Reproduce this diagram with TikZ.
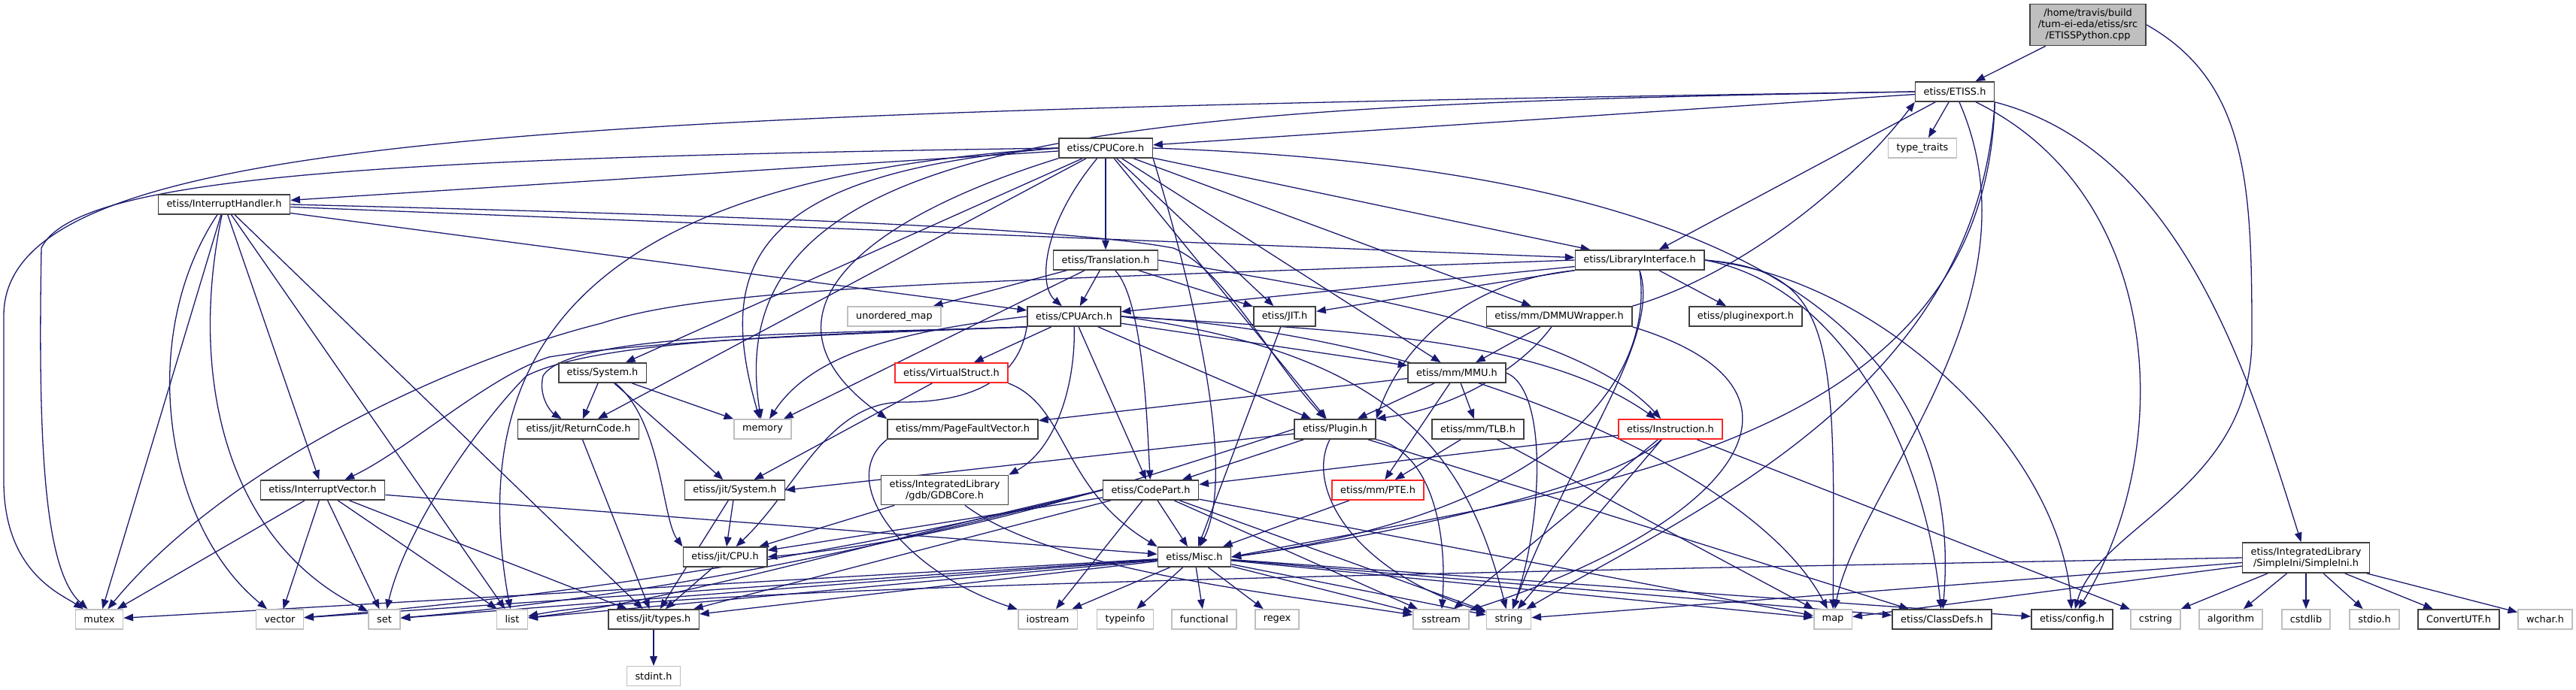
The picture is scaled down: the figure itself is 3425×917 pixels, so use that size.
\documentclass[tikz,border=0pt]{standalone}
\usepackage{fontspec}
\setmainfont{DejaVu Sans}
\usetikzlibrary{arrows.meta,positioning,backgrounds}
\definecolor{edgeblue}{HTML}{191970}
\definecolor{sysgray}{HTML}{BFBFBF}

\begin{document}
\begin{tikzpicture}[
  x=0.03cm, y=-0.03cm,
  font=\fontsize{11}{12.8}\selectfont,
  file/.style={draw, rectangle, align=center, fill=white, minimum height=0.78cm,
               inner xsep=0.33cm, inner ysep=0.06cm, line width=1.4pt},
  hdr/.style={file, draw=black!75},
  sys/.style={file, draw=sysgray},
  trunc/.style={file, draw=red!85},
  root/.style={file, draw=black!75, fill=sysgray, minimum height=1.65cm},
  dep/.style={draw=edgeblue, line width=1.1pt, -{Triangle[length=0.38cm,width=0.29cm]}},
]
\useasboundingbox (0,0) rectangle (3425,917);

% top ranks
\node[root] (src) at (2776,33) {/home/travis/build\\/tum-ei-eda/etiss/src\\/ETISSPython.cpp};
\node[hdr] (etiss) at (2599,122) {etiss/ETISS.h};
\node[hdr] (cpucore) at (1470,197) {etiss/CPUCore.h};
\node[sys] (typetraits) at (2556,197) {type\_traits};
\node[hdr] (ih) at (298,272) {etiss/InterruptHandler.h};
\node[hdr] (translation) at (1470,346) {etiss/Translation.h};
\node[hdr] (libif) at (2180,346) {etiss/LibraryInterface.h};
\node[sys] (umap) at (1189,421) {unordered\_map};
\node[hdr] (cpuarch) at (1428,421) {etiss/CPUArch.h};
\node[hdr] (jit) at (1708,421) {etiss/JIT.h};
\node[hdr] (dmmu) at (2073,421) {etiss/mm/DMMUWrapper.h};
\node[hdr] (plugexp) at (2321,421) {etiss/pluginexport.h};
\node[hdr] (system) at (801,496) {etiss/System.h};
\node[trunc] (vstruct) at (1265,496) {etiss/VirtualStruct.h};
\node[hdr] (mmu) at (1937,496) {etiss/mm/MMU.h};
\node[hdr] (retcode) at (769,571) {etiss/jit/ReturnCode.h};
\node[sys] (memory) at (1014,571) {memory};
\node[hdr] (pfv) at (1280,571) {etiss/mm/PageFaultVector.h};
\node[hdr] (plugin) at (1775,571) {etiss/Plugin.h};
\node[hdr] (tlb) at (1965,571) {etiss/mm/TLB.h};
\node[trunc] (instr) at (2221,571) {etiss/Instruction.h};
\node[hdr] (ivec) at (429,652) {etiss/InterruptVector.h};
\node[hdr] (jsystem) at (977,652) {etiss/jit/System.h};
\node[hdr, minimum height=1.17cm] (gdb) at (1256,652) {etiss/IntegratedLibrary\\/gdb/GDBCore.h};
\node[hdr] (codepart) at (1530,652) {etiss/CodePart.h};
\node[trunc] (pte) at (1832,652) {etiss/mm/PTE.h};
\node[hdr] (jcpu) at (964,741) {etiss/jit/CPU.h};
\node[hdr] (misc) at (1588,741) {etiss/Misc.h};
\node[hdr, minimum height=1.2cm] (simpleini) at (3066,742) {etiss/IntegratedLibrary\\/SimpleIni/SimpleIni.h};

% bottom rank
\node[sys] (mutex) at (132,824) {mutex};
\node[sys] (vector) at (372,824) {vector};
\node[sys] (set) at (511,824) {set};
\node[sys] (list) at (681,824) {list};
\node[hdr] (types) at (869,824) {etiss/jit/types.h};
\node[sys] (iostream) at (1393,824) {iostream};
\node[sys] (typeinfo) at (1496,824) {typeinfo};
\node[sys] (functional) at (1601,824) {functional};
\node[sys] (regex) at (1698,824) {regex};
\node[sys] (sstream) at (1916,824) {sstream};
\node[sys] (string) at (2006,824) {string};
\node[sys] (map) at (2437,824) {map};
\node[hdr] (classdefs) at (2582,824) {etiss/ClassDefs.h};
\node[hdr] (config) at (2755,824) {etiss/config.h};
\node[sys] (cstring) at (2866,824) {cstring};
\node[sys] (algorithm) at (2966,824) {algorithm};
\node[sys] (cstdlib) at (3066,824) {cstdlib};
\node[sys] (stdio) at (3157,824) {stdio.h};
\node[hdr] (convutf) at (3269,824) {ConvertUTF.h};
\node[sys] (wchar) at (3384,824) {wchar.h};
\node[sys, below=1.44cm of types] (stdint) {stdint.h};

\begin{scope}[on background layer]
% source file and ETISS.h
\draw[dep] (src) -- (etiss);
\draw[dep] (src.east) .. controls (2990,110) and (2994,250) .. (2994,450)
  .. controls (2994,650) and (2790,700) .. (config);
\draw[dep] (etiss.west) .. controls (700,150) and (5,180) .. (5,420)
  -- (5,640) .. controls (5,760) and (80,790) .. (mutex);
\draw[dep] (etiss.west) .. controls (1500,140) and (950,170) .. (memory);
\draw[dep] (etiss.south east) .. controls (2640,600) and (2100,650) .. (misc.east);
\draw[dep] (etiss.south east) .. controls (2630,520) and (2250,680) .. (string);
\draw[dep] (etiss) .. controls (2720,400) and (2470,650) .. (map);
\draw[dep] (etiss) .. controls (2880,260) and (2893,600) .. (config);
\draw[dep] (etiss) .. controls (2900,200) and (2990,500) .. (simpleini);
\foreach \t in {cpucore,libif,typetraits}
  \draw[dep] (etiss) -- (\t);
\draw[dep] (dmmu.north east) .. controls (2300,370) and (2450,260) .. (etiss.south west);

% CPUCore.h
\foreach \t in {ih,translation,jit,plugin,mmu,dmmu,libif,system,retcode}
  \draw[dep] (cpucore) -- (\t);
\draw[dep] (cpucore) .. controls (1385,300) and (1380,380) .. (cpuarch);
\draw[dep] (cpucore.south east) .. controls (1570,330) and (1650,620) .. (misc);
\draw[dep] (cpucore.east) .. controls (2200,220) and (2620,380) .. (classdefs);
\draw[dep] (cpucore.south west) .. controls (1120,300) and (1000,430) .. (pfv.north west);
\draw[dep] (cpucore.west) .. controls (900,230) and (600,380) .. (list);
\draw[dep] (cpucore.west) .. controls (1000,230) and (950,350) .. (memory);
\draw[dep] (cpucore.west) .. controls (500,210) and (100,235) .. (55,330)
  .. controls (50,600) and (60,760) .. (mutex);

% InterruptHandler.h
\foreach \t in {libif,cpuarch,ivec,mutex,list,types}
  \draw[dep] (ih) -- (\t);
\draw[dep] (ih) .. controls (180,450) and (220,700) .. (vector);
\draw[dep] (ih) .. controls (250,500) and (300,720) .. (set);
\draw[dep] (ih.east) .. controls (900,285) and (1400,300) .. (1560,330)
  .. controls (1630,360) and (1690,480) .. (plugin);

% Translation.h
\foreach \t in {umap,cpuarch,jit,memory}
  \draw[dep] (translation) -- (\t);
\draw[dep] (translation) .. controls (1520,400) and (1525,560) .. (codepart);
\draw[dep] (translation.east) .. controls (1800,390) and (2100,440) .. (instr);

% LibraryInterface.h
\foreach \t in {cpuarch,jit,plugexp}
  \draw[dep] (libif) -- (\t);
\draw[dep] (libif.south west) .. controls (1940,375) and (1860,470) .. (plugin.north east);
\draw[dep] (libif.south) .. controls (2200,500) and (2080,680) .. (misc.east);
\draw[dep] (libif.south) .. controls (2210,450) and (2090,600) .. (string);
\draw[dep] (libif.east) .. controls (2440,360) and (2440,450) .. (map);
\draw[dep] (libif.east) .. controls (2450,380) and (2560,600) .. (classdefs);
\draw[dep] (libif.east) .. controls (2500,370) and (2740,600) .. (config);
\draw[dep] (libif.west) .. controls (1300,375) and (950,380) .. (800,430)
  .. controls (600,480) and (300,620) .. (mutex);

% CPUArch.h
\foreach \t in {vstruct,codepart,plugin,mmu}
  \draw[dep] (cpuarch) -- (\t);
\draw[dep] (cpuarch.west) .. controls (1200,440) and (1080,470) .. (memory);
\draw[dep] (cpuarch.south west) .. controls (1100,445) and (760,440) .. (722,500)
  .. controls (715,530) and (735,550) .. (retcode);
\draw[dep] (cpuarch.south west) .. controls (1100,445) and (850,455) .. (730,475)
  .. controls (650,500) and (540,600) .. (ivec);
\draw[dep] (cpuarch.south west) .. controls (1100,445) and (800,450) .. (700,500)
  .. controls (640,560) and (540,700) .. (set);
\draw[dep] (cpuarch.south west) .. controls (1355,500) and (1300,535) .. (1200,535)
  .. controls (1100,535) and (1060,650) .. (jcpu);
\draw[dep] (cpuarch) .. controls (1430,520) and (1400,600) .. (gdb.north east);
\draw[dep] (cpuarch.east) .. controls (1800,440) and (2050,450) .. (instr);
\draw[dep] (cpuarch.east) .. controls (1900,440) and (2330,620) .. (map);
\draw[dep] (cpuarch.east) .. controls (1850,470) and (1950,600) .. (string);

% VirtualStruct.h, MMU, DMMUWrapper, TLB
\draw[dep] (vstruct) -- (jsystem);
\draw[dep] (vstruct.south east) .. controls (1420,540) and (1410,650) .. (misc.north west);
\foreach \t in {pfv,plugin,tlb,pte}
  \draw[dep] (mmu) -- (\t);
\draw[dep] (mmu.east) .. controls (2060,520) and (2050,700) .. (string);
\draw[dep] (dmmu) -- (mmu);
\draw[dep] (dmmu) .. controls (2030,480) and (1950,540) .. (plugin.north east);
\draw[dep] (dmmu.south east) .. controls (2450,520) and (2300,700) .. (sstream);
\foreach \t in {pte,map}
  \draw[dep] (tlb) -- (\t);

% Plugin.h
\draw[dep] (plugin) -- (codepart);
\draw[dep] (plugin) -- (jsystem.east);
\draw[dep] (plugin) -- (classdefs);
\draw[dep] (plugin.west) .. controls (1450,660) and (1250,720) .. (jcpu.east);
\draw[dep] (plugin.south east) .. controls (1900,600) and (1925,700) .. (sstream);
\draw[dep] (plugin) .. controls (1735,650) and (1800,760) .. (string);

% Instruction.h
\foreach \t in {codepart,sstream,string,cstring}
  \draw[dep] (instr) -- (\t);
\draw[dep] (instr) .. controls (2150,650) and (1800,720) .. (misc.east);

% lower headers
\foreach \t in {mutex,vector,set,list,types,misc}
  \draw[dep] (ivec) -- (\t);
\foreach \t in {retcode,memory,jsystem}
  \draw[dep] (system) -- (\t);
\draw[dep] (system) .. controls (880,560) and (880,690) .. (jcpu.north west);
\foreach \t in {types,jcpu}
  \draw[dep] (jsystem) -- (\t);
\draw[dep] (retcode) -- (types);
\draw[dep] (jcpu) -- (types);
\draw[dep] (types) -- (stdint);
\draw[dep] (pfv.south west) .. controls (1110,640) and (1200,760) .. (iostream);
\draw[dep] (pte) -- (misc);
\draw[dep] (jit) -- (misc);
\draw[dep] (gdb) -- (jcpu);
\draw[dep] (gdb) .. controls (1400,760) and (1700,790) .. (sstream);

% CodePart.h
\foreach \t in {misc,iostream,jcpu,types,sstream,string,map}
  \draw[dep] (codepart) -- (\t);
\draw[dep] (codepart.west) .. controls (1200,720) and (900,790) .. (set);
\draw[dep] (codepart.west) .. controls (1200,710) and (900,800) .. (list);
\draw[dep] (codepart.west) .. controls (1200,720) and (800,790) .. (vector);

% Misc.h
\foreach \t in {mutex,vector,set,list,types,iostream,typeinfo,functional,regex,sstream,string,map,classdefs,config}
  \draw[dep] (misc) -- (\t);

% SimpleIni.h
\foreach \t in {string,map,cstring,algorithm,cstdlib,stdio,convutf,wchar}
  \draw[dep] (simpleini) -- (\t);
\draw[dep] (simpleini.west) .. controls (2000,760) and (900,780) .. (list);
\end{scope}
\end{tikzpicture}
\end{document}
